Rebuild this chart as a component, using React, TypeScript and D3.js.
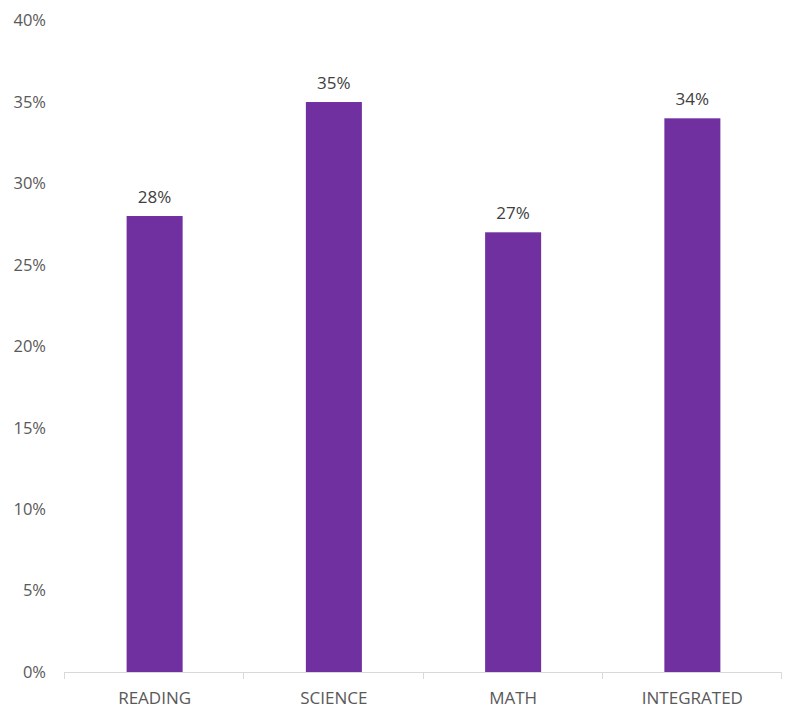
import React from "react";
import * as d3 from "d3";

const categories = ["READING", "SCIENCE", "MATH", "INTEGRATED"];
const values = [28, 35, 27, 34];
const yTicks = [0, 5, 10, 15, 20, 25, 30, 35, 40];

export default function App() {
  const W = 800, H = 721;
  const x = d3.scaleBand<string>().domain(categories).range([64, 781]).padding(0);
  const y = d3.scaleLinear().domain([0, 40]).range([672, 20.6]);
  const bw = x.bandwidth() * 0.3125;
  const font = "'Open Sans', 'Liberation Sans', sans-serif";
  const boundaries = [...categories.map((c) => x(c) as number), 781];
  return (
    <svg width={W} height={H} style={{ position: "absolute", left: 0, top: 0, background: "#fff" }}>
      {yTicks.map((t) => (
        <text key={t} x={46} y={y(t)} dy="0.35em" textAnchor="end" fontFamily={font} fontSize={16.5} fill="#595959">
          {t}%
        </text>
      ))}
      {categories.map((c, i) => {
        const cx = (x(c) as number) + x.bandwidth() / 2 + 1;
        return (
          <g key={c}>
            <rect x={cx - bw / 2} y={y(values[i])} width={bw} height={y(0) - y(values[i])} fill="#7030A0" />
            <text x={cx} y={y(values[i]) - 13} textAnchor="middle" fontFamily={font} fontSize={17} fill="#404040">
              {values[i]}%
            </text>
            <text x={cx} y={698} dy="0.35em" textAnchor="middle" fontFamily={font} fontSize={17} fill="#595959">
              {c}
            </text>
          </g>
        );
      })}
      <line x1={64} x2={781} y1={672.5} y2={672.5} stroke="#d9d9d9" strokeWidth={1} />
      {boundaries.map((b, i) => (
        <line key={i} x1={Math.round(b) + 0.5} x2={Math.round(b) + 0.5} y1={672} y2={679} stroke="#d9d9d9" strokeWidth={1} />
      ))}
    </svg>
  );
}
